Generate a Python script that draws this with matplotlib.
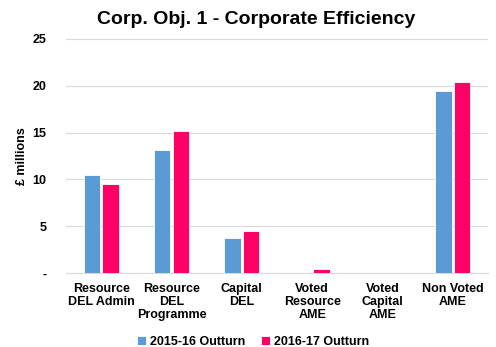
import matplotlib
matplotlib.use("Agg")
import matplotlib.pyplot as plt
import numpy as np

plt.rcParams['font.family'] = ['Liberation Sans', 'DejaVu Sans']

categories = ["Resource\nDEL Admin", "Resource\nDEL\nProgramme", "Capital\nDEL",
              "Voted\nResource\nAME", "Voted\nCapital\nAME", "Non Voted\nAME"]
outturn_1516 = [10.5, 13.1, 3.75, 0.05, 0.0, 19.45]
outturn_1617 = [9.5, 15.2, 4.5, 0.45, 0.0, 20.4]
yticks = [0, 5, 10, 15, 20, 25]
ytick_labels = ["-", "5", "10", "15", "20", "25"]

fig = plt.figure(figsize=(4.96, 3.47), dpi=100)
ax = fig.add_axes([0.133, 0.213, 0.851, 0.675])

x = np.arange(len(categories))
w = 0.235
ax.bar(x - w / 2 - 0.015, outturn_1516, w, color="#5B9BD5", edgecolor="white",
       linewidth=0.6, label="2015-16 Outturn", zorder=3)
ax.bar(x + w / 2 + 0.015, outturn_1617, w, color="#FF0066", edgecolor="white",
       linewidth=0.6, label="2016-17 Outturn", zorder=3)

ax.set_xlim(-0.5, len(categories) - 0.5)
ax.set_ylim(0, 25)
ax.set_yticks(yticks)
ax.set_yticklabels(ytick_labels, fontsize=9, fontweight="bold")
ax.set_xticks(x)
ax.set_xticklabels(categories, fontsize=9, fontweight="bold", va="top",
                   linespacing=1.1)
ax.tick_params(axis="y", length=0, pad=14)
ax.tick_params(axis="x", length=0, pad=7)
ax.grid(axis="y", color="#d9d9d9", linewidth=0.8, zorder=0)
for s in ["top", "right", "left"]:
    ax.spines[s].set_visible(False)
ax.spines["bottom"].set_color("#d9d9d9")

ax.set_ylabel("£ millions", fontsize=9, fontweight="bold", labelpad=3)
fig.text(0.516, 0.945, "Corp. Obj. 1 - Corporate Efficiency", ha="center",
         va="center", fontsize=14, fontweight="bold")

leg = fig.legend(loc="center", bbox_to_anchor=(0.51, 0.015), ncol=2, frameon=False,
                 prop={"size": 9, "weight": "bold"}, handlelength=0.7,
                 handleheight=0.7, handletextpad=0.3, columnspacing=1.3)

fig.savefig("out.png", dpi=100)
